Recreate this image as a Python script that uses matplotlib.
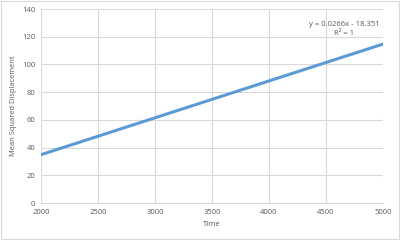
import matplotlib
matplotlib.use("Agg")
import matplotlib.pyplot as plt
from matplotlib.patches import Rectangle

# data (linear fit y = 0.0266x - 18.351)
time = [2000, 2500, 3000, 3500, 4000, 4500, 5000]
msd = [34.9, 48.2, 61.5, 74.8, 88.1, 101.4, 114.7]
xticks = [2000, 2500, 3000, 3500, 4000, 4500, 5000]
yticks = [0, 20, 40, 60, 80, 100, 120, 140]

plt.rcParams['font.family'] = ['Open Sans', 'DejaVu Sans']
txt = '#595959'
grid = '#D9D9D9'

fig = plt.figure(figsize=(4, 2.4), dpi=100)
ax = fig.add_axes([0.1025, 0.154, 0.855, 0.8085])

ax.plot(time, msd, color='#5B9BD5', lw=2.2, solid_capstyle='round')

ax.set_xlim(2000, 5000)
ax.set_ylim(0, 140)
ax.set_xticks(xticks)
ax.set_yticks(yticks)
ax.grid(True, color=grid, lw=0.8)
ax.set_axisbelow(True)
for s in ['top', 'right', 'left']:
    ax.spines[s].set_visible(False)
ax.spines['bottom'].set_color(grid)
ax.spines['bottom'].set_linewidth(0.8)
ax.tick_params(length=0, labelsize=5.5, labelcolor=txt, pad=4)

ax.set_xlabel('Time', fontsize=5.6, color=txt, labelpad=4)
ax.set_ylabel('Mean Squared Displacement', fontsize=5.4, color=txt, labelpad=4)

# trendline label
ax.text(4660, 125.5, 'y = 0.0266x - 18.351\nR² = 1', fontsize=5.5, color=txt,
        ha='center', va='center', linespacing=1.35)

fig.patches.append(Rectangle((0.003, 0.005), 0.994, 0.99, transform=fig.transFigure,
                             fill=False, edgecolor=grid, lw=0.8))

fig.savefig('out.png', dpi=100)
